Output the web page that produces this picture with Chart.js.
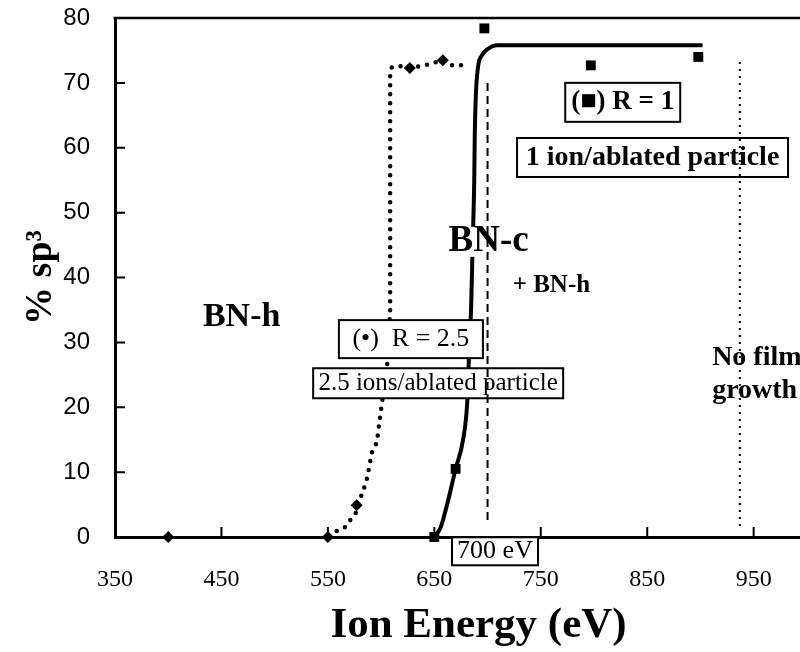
<!DOCTYPE html>
<html><head><meta charset="utf-8">
<style>html,body{margin:0;padding:0;background:#fff;overflow:hidden;width:800px;height:652px}
#wrap{width:850px;height:652px}</style>
<script src="https://cdn.jsdelivr.net/npm/chart.js@4"></script>
</head><body><div id="wrap"><canvas id="c" width="850" height="652"></canvas></div>
<script>
// ---- data ----
const xTicks = [350, 450, 550, 650, 750, 850, 950];
const yTicks = [0, 10, 20, 30, 40, 50, 60, 70, 80];
// R = 1 measured points (squares)
const r1Energy = [650, 670, 697, 797, 898];
const r1Sp3 = [0, 10.5, 78.4, 72.7, 74];
// R = 2.5 measured points (diamonds)
const r25Energy = [400, 550, 577, 627, 658];
const r25Sp3 = [0, 0, 4.9, 72.3, 73.5];
// R = 1 guide curve (solid)
const fit1Energy = [650, 656, 662, 670, 677, 681, 683, 684.5, 686, 687.5, 688, 689, 691, 695, 700, 709, 902];
const fit1Sp3 = [0, 1.5, 5, 10.5, 15, 21, 30, 35, 45, 55, 62, 68, 72.4, 74.3, 75.2, 75.8, 75.8];
// R = 2.5 guide curve (dotted)
const fit25Energy = [552, 558, 566, 571, 577, 580, 586, 589, 591, 596, 599, 606, 608.5, 608.5, 608.5, 608.5, 610, 620, 627, 637, 646, 658, 667, 676];
const fit25Sp3 = [0, 0.9, 1.5, 2.6, 3.9, 5.7, 8.5, 10.9, 12.9, 14.6, 18.5, 27, 35, 46, 60, 71.5, 72.4, 72.6, 72.3, 72.6, 72.9, 73.5, 72.7, 72.7];
// vertical markers
const thresholdEnergy = [700, 700];
const thresholdSp3 = [70, 2];
const noGrowthEnergy = [937, 937];
const noGrowthSp3 = [73.2, 1];

const pts = (xs, ys) => xs.map((x, i) => ({x, y: ys[i]}));

const SERIF = '"Liberation Serif", "Times New Roman", serif';
const SANS = '"Liberation Sans", Arial, sans-serif';

// text annotations placed in data coordinates
const notes = [
  {text: '(■) R = 1', x: 827, y: 67, font: 'bold 27px ' + SERIF, w: 115, h: 39, border: true},
  {text: '1 ion/ablated particle', x: 855, y: 58.5, font: 'bold 28px ' + SERIF, w: 271, h: 39, border: true},
  {text: 'BN-c', x: 701, y: 45.5, font: 'bold 37px ' + SERIF, w: 86, h: 30, border: false},
  {text: '+ BN-h', x: 760, y: 38.7, font: 'bold 25px ' + SERIF},
  {text: 'BN-h', x: 469, y: 33.9, font: 'bold 34px ' + SERIF},
  {text: '(•)  R = 2.5', x: 628, y: 30.5, font: '26px ' + SERIF, w: 144, h: 38, border: true},
  {text: '2.5 ions/ablated particle', x: 653.6, y: 23.7, font: '25px ' + SERIF, w: 250, h: 30, border: true},
  {text: '700 eV', x: 707, y: -2.2, font: '26px ' + SERIF, w: 86, h: 28, border: true},
  {text: 'No film', x: 911, y: 27.7, font: 'bold 28px ' + SERIF, align: 'left'},
  {text: 'growth', x: 911, y: 22.5, font: 'bold 28px ' + SERIF, align: 'left'}
];

const annot = {
  id: 'annot',
  beforeDatasetDraw(chart, args) {
    if (args.index !== 1) return;
    const ctx = chart.ctx, xs = chart.scales.x, ys = chart.scales.y;
    ctx.save();
    notes.forEach(n => {
      const px = xs.getPixelForValue(n.x), py = ys.getPixelForValue(n.y);
      if (n.w) {
        ctx.fillStyle = '#fff';
        ctx.fillRect(px - n.w / 2, py - n.h / 2, n.w, n.h);
        if (n.border) {
          ctx.strokeStyle = '#000'; ctx.lineWidth = 2;
          ctx.strokeRect(px - n.w / 2, py - n.h / 2, n.w, n.h);
        }
      }
      ctx.font = n.font;
      ctx.fillStyle = '#000';
      ctx.textAlign = n.align || 'center';
      ctx.textBaseline = 'middle';
      ctx.fillText(n.text, px, py);
    });
    ctx.restore();
  },
  afterDraw(chart) {
    const ctx = chart.ctx, xs = chart.scales.x, ys = chart.scales.y, a = chart.chartArea;
    ctx.save();
    ctx.strokeStyle = '#000';
    ctx.lineWidth = 2.5;
    ctx.beginPath(); ctx.moveTo(a.left - 1.5, a.top); ctx.lineTo(a.right, a.top); ctx.stroke();
    ctx.lineWidth = 2;
    ctx.beginPath();
    yTicks.slice(1, -1).forEach(v => { const y = ys.getPixelForValue(v); ctx.moveTo(a.left, y); ctx.lineTo(a.left + 10, y); });
    xTicks.slice(1).forEach(v => { const x = xs.getPixelForValue(v); ctx.moveTo(x, a.bottom); ctx.lineTo(x, a.bottom - 10); });
    ctx.stroke();
    ctx.restore();
  }
};

const noPad = s => { s.paddingTop = 0; s.paddingBottom = 0; s.paddingLeft = 0; s.paddingRight = 0; };

new Chart(document.getElementById('c'), {
  type: 'scatter',
  data: {
    datasets: [
      {data: pts(thresholdEnergy, thresholdSp3), showLine: true, borderColor: '#000', borderWidth: 2, borderDash: [8, 5], pointRadius: 0},
      {data: pts(noGrowthEnergy, noGrowthSp3), showLine: true, borderColor: '#000', borderWidth: 2, borderDash: [2, 5], pointRadius: 0},
      {data: pts(r1Energy, r1Sp3), pointStyle: 'rect', pointRadius: 7, backgroundColor: '#000', borderColor: '#000', borderWidth: 0, clip: false},
      {data: pts(r25Energy, r25Sp3), pointStyle: 'rectRot', pointRadius: 6, backgroundColor: '#000', borderColor: '#000', borderWidth: 0, clip: false},
      {data: pts(fit1Energy, fit1Sp3), showLine: true, borderColor: '#000', borderWidth: 4, pointRadius: 0, cubicInterpolationMode: 'monotone'},
      {data: pts(fit25Energy, fit25Sp3), showLine: true, borderColor: '#000', borderWidth: 4.5, borderDash: [0, 9], borderCapStyle: 'round', pointRadius: 0, tension: 0}
    ]
  },
  options: {
    responsive: false,
    animation: false,
    layout: {autoPadding: false, padding: {top: 18, right: 8, left: 0, bottom: 0}},
    plugins: {legend: {display: false}, tooltip: {enabled: false}},
    scales: {
      x: {
        type: 'linear', min: 350, max: 1033,
        afterBuildTicks: s => { s.ticks = xTicks.map(v => ({value: v})); },
        afterFit: s => { s.height = 115; noPad(s); },
        grid: {display: false, drawTicks: false},
        border: {display: true, color: '#000', width: 3},
        ticks: {color: '#000', padding: 28, font: {family: SERIF, size: 24}},
        title: {display: true, text: 'Ion Energy (eV)', color: '#000', font: {family: SERIF, size: 43, weight: 'bold'}, padding: {top: 0, bottom: 0}}
      },
      y: {
        min: 0, max: 80,
        afterBuildTicks: s => { s.ticks = yTicks.map(v => ({value: v})); },
        afterFit: s => { s.width = 115; noPad(s); },
        grid: {display: false, drawTicks: false},
        border: {display: true, color: '#000', width: 3},
        ticks: {color: '#000', padding: 25, font: {family: SANS, size: 24}},
        title: {display: true, text: '% sp³', color: '#000', font: {family: SERIF, size: 38, weight: 'bold'}, padding: {top: 18, bottom: 0}}
      }
    }
  },
  plugins: [annot]
});
</script></body></html>
